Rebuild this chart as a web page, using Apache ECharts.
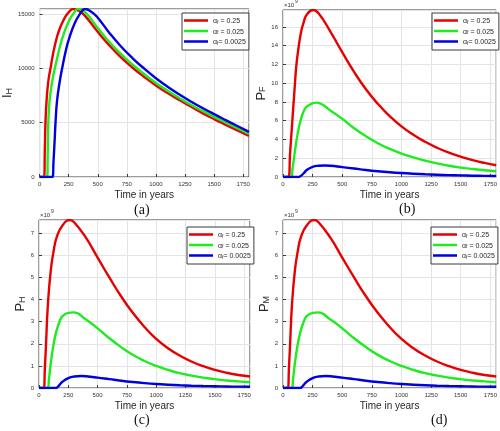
<!DOCTYPE html>
<html><head><meta charset="utf-8">
<script src="https://cdn.jsdelivr.net/npm/echarts@6/dist/echarts.min.js"></script>
<style>html,body{margin:0;padding:0;background:#fff}#c{width:500px;height:431px}</style>
</head><body><div id="c"></div>
<script>
// ---------- data ----------
const alphaNames = ['0.25', '0.025', '0.0025'];
const xTicks = [0, 250, 500, 750, 1000, 1250, 1500, 1750];

// (a) I_H
const tIH_red = [0, 38, 45, 50, 60, 75, 94, 110, 125, 150, 175, 200, 225, 250, 290, 350, 400, 500, 600, 700, 800, 900, 1000, 1100, 1200, 1300, 1400, 1500, 1600, 1700, 1800];
const IH_red  = [0, 0, 2500, 4800, 7000, 8800, 10000, 11000, 11800, 12900, 13700, 14300, 14800, 15150, 15450, 15200, 14700, 13350, 12100, 11000, 10050, 9200, 8420, 7720, 7080, 6480, 5870, 5320, 4800, 4290, 3780];
const tIH_green = [0, 65, 70, 75, 85, 100, 115, 131, 150, 175, 200, 250, 300, 330, 400, 500, 600, 700, 800, 900, 1000, 1100, 1200, 1300, 1400, 1500, 1600, 1700, 1800];
const IH_green  = [0, 0, 2200, 5000, 6900, 8200, 9200, 10000, 10900, 12000, 12900, 14300, 15150, 15450, 15050, 13700, 12420, 11300, 10320, 9450, 8650, 7930, 7270, 6650, 6080, 5530, 5000, 4480, 3950];
const tIH_blue = [0, 110, 120, 130, 137, 150, 175, 194, 225, 250, 300, 350, 390, 450, 500, 600, 700, 800, 900, 1000, 1100, 1200, 1300, 1400, 1500, 1600, 1700, 1800];
const IH_blue  = [0, 0, 1500, 3500, 5000, 7000, 8900, 10000, 11600, 12600, 14100, 15050, 15450, 15150, 14650, 13250, 12000, 10920, 9960, 9080, 8300, 7600, 6950, 6350, 5780, 5230, 4690, 4150];

// (b) P_F (x 1e9)
const tPF_red = [0, 45, 60, 75, 100, 112, 125, 150, 175, 200, 255, 300, 400, 500, 600, 700, 800, 900, 1000, 1100, 1200, 1300, 1400, 1500, 1600, 1700, 1800];
const PF_red  = [0, 0, 2.6, 5.3, 9.8, 11.8, 13.2, 15.3, 16.5, 17.3, 17.8, 17.45, 15.5, 13.3, 11.2, 9.35, 7.8, 6.5, 5.4, 4.5, 3.75, 3.12, 2.6, 2.17, 1.8, 1.5, 1.25];
const tPF_green = [0, 70, 80, 100, 125, 150, 175, 200, 250, 280, 300, 400, 500, 600, 700, 800, 900, 1000, 1100, 1200, 1300, 1400, 1500, 1600, 1700, 1800];
const PF_green  = [0, 0, 0.8, 2.7, 4.7, 6.1, 7.0, 7.5, 7.85, 7.93, 7.9, 7.1, 6.2, 5.2, 4.35, 3.6, 3.0, 2.5, 2.1, 1.75, 1.45, 1.2, 1.0, 0.85, 0.72, 0.62];
const tPF_blue = [0, 130, 150, 175, 200, 250, 300, 350, 400, 500, 600, 700, 800, 900, 1000, 1100, 1200, 1300, 1400, 1500, 1600, 1700, 1800];
const PF_blue  = [0, 0, 0.12, 0.4, 0.75, 1.08, 1.2, 1.23, 1.2, 1.05, 0.9, 0.75, 0.62, 0.51, 0.42, 0.35, 0.29, 0.24, 0.2, 0.17, 0.14, 0.12, 0.1];

// (c) P_H (x 1e9)
const tPH_red = [0, 40, 50, 60, 75, 100, 125, 150, 200, 265, 300, 400, 500, 600, 700, 800, 900, 1000, 1100, 1200, 1300, 1400, 1500, 1600, 1700, 1800];
const PH_red  = [0, 0, 0.9, 2.0, 3.7, 5.3, 6.2, 6.8, 7.35, 7.6, 7.5, 6.8, 5.9, 5.0, 4.15, 3.4, 2.76, 2.22, 1.8, 1.47, 1.2, 0.99, 0.82, 0.69, 0.59, 0.52];
const tPH_green = [0, 75, 85, 100, 125, 150, 175, 200, 250, 295, 400, 500, 600, 700, 800, 900, 1000, 1100, 1200, 1300, 1400, 1500, 1600, 1700, 1800];
const PH_green  = [0, 0, 0.4, 1.1, 2.0, 2.6, 3.0, 3.25, 3.4, 3.42, 3.1, 2.7, 2.25, 1.85, 1.5, 1.22, 1.0, 0.82, 0.67, 0.56, 0.47, 0.4, 0.34, 0.3, 0.26];
const tPH_blue = [0, 145, 160, 175, 200, 250, 300, 360, 400, 500, 600, 700, 800, 900, 1000, 1100, 1200, 1300, 1400, 1500, 1600, 1700, 1800];
const PH_blue  = [0, 0, 0.05, 0.14, 0.28, 0.45, 0.52, 0.54, 0.53, 0.47, 0.4, 0.33, 0.27, 0.22, 0.18, 0.15, 0.125, 0.105, 0.09, 0.078, 0.068, 0.06, 0.055];

// (d) P_M (x 1e9)
const tPM_red = [0, 40, 50, 60, 75, 100, 125, 150, 200, 265, 300, 400, 500, 600, 700, 800, 900, 1000, 1100, 1200, 1300, 1400, 1500, 1600, 1700, 1800];
const PM_red  = [0, 0, 0.9, 2.0, 3.7, 5.3, 6.2, 6.8, 7.35, 7.6, 7.5, 6.8, 5.9, 5.0, 4.15, 3.4, 2.76, 2.22, 1.8, 1.47, 1.2, 0.99, 0.82, 0.69, 0.59, 0.52];
const tPM_green = [0, 75, 85, 100, 125, 150, 175, 200, 250, 295, 400, 500, 600, 700, 800, 900, 1000, 1100, 1200, 1300, 1400, 1500, 1600, 1700, 1800];
const PM_green  = [0, 0, 0.4, 1.1, 2.0, 2.6, 3.0, 3.25, 3.4, 3.42, 3.1, 2.7, 2.25, 1.85, 1.5, 1.22, 1.0, 0.82, 0.67, 0.56, 0.47, 0.4, 0.34, 0.3, 0.26];
const tPM_blue = [0, 145, 160, 175, 200, 250, 300, 360, 400, 500, 600, 700, 800, 900, 1000, 1100, 1200, 1300, 1400, 1500, 1600, 1700, 1800];
const PM_blue  = [0, 0, 0.05, 0.14, 0.28, 0.45, 0.52, 0.54, 0.53, 0.47, 0.4, 0.33, 0.27, 0.22, 0.18, 0.15, 0.125, 0.105, 0.09, 0.078, 0.068, 0.06, 0.055];

const panels = [
  {label: '(a)', yMain: 'I', ySub: 'H', yMax: 15450, yInt: 5000, exp: false,
   series: [[tIH_red, IH_red], [tIH_green, IH_green], [tIH_blue, IH_blue]]},
  {label: '(b)', yMain: 'P', ySub: 'F', yMax: 17.8, yInt: 2, exp: true,
   series: [[tPF_red, PF_red], [tPF_green, PF_green], [tPF_blue, PF_blue]]},
  {label: '(c)', yMain: 'P', ySub: 'H', yMax: 7.6, yInt: 1, exp: true,
   series: [[tPH_red, PH_red], [tPH_green, PH_green], [tPH_blue, PH_blue]]},
  {label: '(d)', yMain: 'P', ySub: 'M', yMax: 7.6, yInt: 1, exp: true,
   series: [[tPM_red, PM_red], [tPM_green, PM_green], [tPM_blue, PM_blue]]}
];

// ---------- layout ----------
const colors = ['#e80000', '#1fec1f', '#0000e0'];
const grids = [
  {left: 39, top: 9, width: 210, height: 168},
  {left: 283, top: 10, width: 215, height: 167},
  {left: 39, top: 220, width: 211, height: 168},
  {left: 283, top: 220, width: 215, height: 168}
];
const nameGaps = [22, 14, 12, 11];
const legendPos = [{left: 182, top: 13}, {left: 432, top: 13}, {left: 187, top: 227}, {left: 431, top: 227}];
const captionPos = [[142, 211], [407, 210], [142, 421], [439, 421]];
const axisColor = '#3a3a3a';

const option = {
  animation: false,
  backgroundColor: '#fff',
  grid: grids.map(g => Object.assign({show: true, borderColor: axisColor, borderWidth: 1, backgroundColor: '#fff'}, g)),
  xAxis: panels.map((p, i) => ({
    type: 'value', gridIndex: i, min: 0, max: 1800, interval: 250,
    name: 'Time in years', nameLocation: 'middle', nameGap: 13,
    nameTextStyle: {fontFamily: 'Liberation Sans', fontSize: 10, color: '#262626'},
    axisLine: {show: false},
    axisTick: {show: true, inside: true, length: 3, lineStyle: {color: axisColor}},
    axisLabel: {fontFamily: 'Liberation Sans', fontSize: 6, color: '#333', margin: 4, showMaxLabel: false,
      formatter: v => xTicks.includes(v) ? String(v) : ''},
    splitLine: {show: true, lineStyle: {color: '#e4e4e4', width: 1}}
  })),
  yAxis: panels.map((p, i) => ({
    type: 'value', gridIndex: i, min: 0, max: p.yMax, interval: p.yInt,
    name: '{m|' + p.yMain + '}{s|' + p.ySub + '}', nameLocation: 'middle', nameGap: nameGaps[i], nameRotate: 90,
    nameTextStyle: {rich: {
      m: {fontFamily: 'Liberation Sans', fontSize: 13, color: '#262626', verticalAlign: 'bottom', lineHeight: 14},
      s: {fontFamily: 'Liberation Sans', fontSize: 9, color: '#262626', verticalAlign: 'bottom', lineHeight: 8}
    }},
    axisLine: {show: false},
    axisTick: {show: true, inside: true, length: 3, lineStyle: {color: axisColor}},
    axisLabel: {fontFamily: 'Liberation Sans', fontSize: 6, color: '#333', margin: 5, showMaxLabel: false,
      formatter: v => String(v)},
    splitLine: {show: true, lineStyle: {color: '#e4e4e4', width: 1}}
  })),
  legend: panels.map((p, i) => ({
    left: legendPos[i].left, top: legendPos[i].top, orient: 'vertical',
    data: alphaNames.map(n => ({name: n, icon: 'rect'})), itemWidth: 24, itemHeight: 2.5, itemGap: 3.5, itemTextGap: 2,
    padding: [5, 3, 4, 2], borderColor: axisColor, borderWidth: 1, backgroundColor: '#fff', borderRadius: 0,
    formatter: n => '{a|α}{s|f}{a|' + (n === '0.0025' ? '= ' : ' = ') + n + '}',
    textStyle: {rich: {
      a: {fontFamily: 'Liberation Sans', fontSize: 7, color: '#262626', verticalAlign: 'bottom', lineHeight: 9},
      s: {fontFamily: 'Liberation Sans', fontSize: 5, color: '#262626', verticalAlign: 'bottom', lineHeight: 6}
    }}
  })),
  series: [],
  graphic: []
};

panels.forEach((p, i) => {
  p.series.forEach((s, k) => {
    option.series.push({
      type: 'line', name: alphaNames[k], xAxisIndex: i, yAxisIndex: i,
      data: s[0].map((t, j) => [t, s[1][j]]),
      showSymbol: false, symbol: 'none', smooth: 0.5,
      lineStyle: {color: colors[k], width: 2.4}, itemStyle: {color: colors[k]}, z: 3 + k
    });
  });
  option.graphic.push({
    type: 'text', left: captionPos[i][0] - 8, top: captionPos[i][1] - 8,
    style: {text: p.label, font: '14px "Liberation Serif"', fill: '#111'}
  });
  if (p.exp) {
    option.graphic.push({
      type: 'text', left: grids[i].left + 1, top: grids[i].top - 8,
      style: {text: '×10', font: '6px "Liberation Sans"', fill: '#333'}
    });
    option.graphic.push({
      type: 'text', left: grids[i].left + 12, top: grids[i].top - 11,
      style: {text: '9', font: '5px "Liberation Sans"', fill: '#333'}
    });
  }
});

const chart = echarts.init(document.getElementById('c'), null, {renderer: 'canvas'});
chart.setOption(option);
</script>
</body></html>
